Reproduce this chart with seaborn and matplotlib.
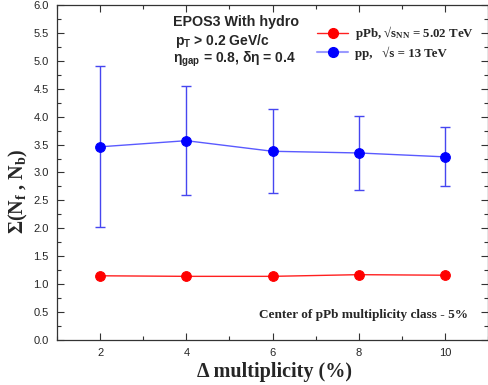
import matplotlib
matplotlib.use("Agg")
import matplotlib.pyplot as plt
import seaborn as sns
import numpy as np
import pandas as pd
from matplotlib.ticker import MultipleLocator

# data
delta_mult = [2, 4, 6, 8, 10]
ppb_values = [1.15, 1.14, 1.14, 1.17, 1.16]
pp_values = [3.46, 3.57, 3.38, 3.35, 3.28]
pp_errors = [1.44, 0.98, 0.75, 0.67, 0.53]

sns.set_theme(style="ticks")
plt.rcParams["font.family"] = ["Liberation Sans", "DejaVu Sans"]
plt.rcParams["mathtext.fontset"] = "custom"
plt.rcParams["mathtext.rm"] = "Liberation Serif:bold"
plt.rcParams["mathtext.sf"] = "Liberation Sans:bold"
plt.rcParams["mathtext.it"] = "Liberation Serif:bold:italic"

df = pd.DataFrame({
    "mult": delta_mult * 2,
    "value": ppb_values + pp_values,
    "system": ["pPb"] * len(ppb_values) + ["pp"] * len(pp_values),
})

fig = plt.figure(figsize=(4.89, 3.85), dpi=100)
ax = fig.add_axes([0.1166, 0.1169, 0.8814, 0.8701])

ax.errorbar(delta_mult, pp_values, yerr=pp_errors, fmt="none",
            ecolor="#4646f0", elinewidth=1.0, capsize=3.5, capthick=1.0, zorder=1)

sns.lineplot(data=df, x="mult", y="value", hue="system",
             palette={"pPb": "#ff2020", "pp": "#5a5aff"},
             marker="o", markersize=7, linewidth=1.0, ax=ax,
             legend=False, zorder=2)
# marker faces in pure colours
for line, c in zip(ax.get_lines()[-2:], ["#ff0000", "#0000ff"]):
    line.set_markerfacecolor(c)
    line.set_markeredgecolor(c)

ax.set_xlim(1, 11)
ax.set_ylim(0, 6)
ax.xaxis.set_major_locator(MultipleLocator(2))
ax.xaxis.set_minor_locator(MultipleLocator(1))
ax.yaxis.set_major_locator(MultipleLocator(0.5))
ax.yaxis.set_minor_locator(MultipleLocator(0.25))
ax.tick_params(which="both", direction="in", top=True, right=True,
               labelsize=8, color="#333333", width=0.8)
ax.tick_params(which="major", length=5, pad=6)
ax.tick_params(which="minor", length=3)
ax.set_yticklabels([f"{v:.1f}" for v in ax.get_yticks()])
for s in ax.spines.values():
    s.set_linewidth(0.9)
    s.set_color("#333333")

ax.set_xlabel(r"Δ multiplicity (%)", family="Liberation Serif",
              fontweight="bold", fontsize=14.5)
ax.xaxis.set_label_coords(0.505, -0.065)
ax.set_ylabel(r"Σ(N$_{\rm f}$ , N$_{\rm b}$)", family="Liberation Serif",
              fontweight="bold", fontsize=14.5)
ax.yaxis.set_label_coords(-0.063, 0.445)

ax.text(0.269, 0.95, "EPOS3 With hydro", transform=ax.transAxes,
        fontsize=10.3, fontweight="bold", va="center")
ax.text(0.273, 0.892, r"p$_{\mathsf{T}}$ > 0.2 GeV/c", transform=ax.transAxes,
        fontsize=10, fontweight="bold", va="center")
ax.text(0.269, 0.838, r"η$_{\mathsf{gap}}$ = 0.8, δη = 0.4", transform=ax.transAxes,
        fontsize=10, fontweight="bold", va="center")
ax.text(0.954, 0.075, "Center of pPb multiplicity class - 5%",
        transform=ax.transAxes, family="Liberation Serif", fontweight="bold",
        fontsize=9.5, ha="right", va="center")

handles = [
    plt.Line2D([], [], color="#ff2020", lw=1.0, marker="o", markersize=7,
               markerfacecolor="#ff0000", markeredgecolor="#ff0000"),
    plt.Line2D([], [], color="#9a9aff", lw=1.5, marker="o", markersize=7,
               markerfacecolor="#0000ff", markeredgecolor="#0000ff"),
]
labels = [r"pPb, √s$_{\rm NN}$ = 5.02 TeV", r"pp,   √s = 13 TeV"]
ax.legend(handles, labels, loc="upper right", bbox_to_anchor=(0.985, 0.965),
          frameon=False, handlelength=2.4, handletextpad=0.5,
          labelspacing=0.3, borderaxespad=0.2,
          prop={"family": "Liberation Serif", "weight": "bold", "size": 9.3})

fig.savefig("out.png", dpi=100)
